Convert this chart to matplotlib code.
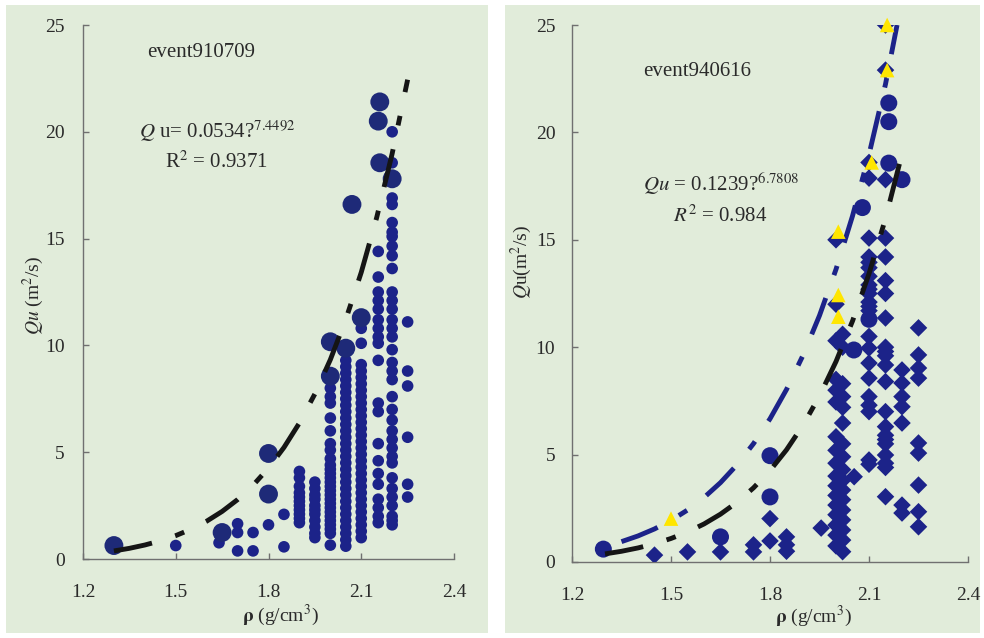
import matplotlib
matplotlib.use("Agg")
import matplotlib.pyplot as plt
from matplotlib.patches import Rectangle

plt.rcParams['font.family'] = ['Liberation Serif', 'DejaVu Serif']
plt.rcParams['mathtext.fontset'] = 'stix'

# ---------------- data: event910709 (left) ----------------
L_big_x = [1.30, 1.65, 1.80, 1.80, 2.00, 2.00, 2.05, 2.07, 2.10, 2.16, 2.155, 2.16, 2.20]
L_big_y = [0.63, 1.24, 4.94, 3.04, 10.17, 8.56, 9.87, 16.6, 11.3, 21.4, 20.5, 18.55, 17.8]

L_col200 = [8.0, 7.6, 7.3, 6.6, 6.0, 5.4, 5.1, 4.7, 4.4, 4.2, 4.0, 3.8, 3.6, 3.4, 3.2, 3.0,
            2.8, 2.6, 2.4, 2.2, 2.0, 1.8, 1.6, 1.4, 1.2, 0.65]
L_col205 = [9.3, 9.0, 8.7, 8.4, 8.1, 7.8, 7.5, 7.2, 6.9, 6.6, 6.3, 6.0, 5.7, 5.4, 5.1, 4.8,
            4.5, 4.2, 3.9, 3.6, 3.3, 3.0, 2.7, 2.4, 2.1, 1.8, 1.5, 1.2, 0.9, 0.6]
L_col210 = [10.8, 10.1, 9.1, 8.8, 8.5, 8.2, 7.9, 7.6, 7.3, 7.0, 6.7, 6.4, 6.1, 5.8, 5.5, 5.2,
            4.9, 4.6, 4.3, 4.0, 3.7, 3.4, 3.1, 2.8, 2.5, 2.2, 1.9, 1.6, 1.3, 1.0]
L_col215 = [14.4, 13.2, 12.5, 12.1, 11.7, 11.2, 10.8, 10.4, 10.1, 9.3, 7.3, 6.9, 5.4, 4.6,
            4.0, 3.5, 2.8, 2.4, 2.0, 1.7]
L_col220 = [20.0, 18.55, 16.9, 16.6, 15.75, 15.3, 15.1, 14.65, 14.2, 13.6, 12.5, 12.1,
            11.7, 11.2, 10.8, 10.4, 9.8, 9.2, 8.8, 8.4, 7.6, 7.0, 6.5, 6.0, 5.6, 5.2,
            4.8, 4.5, 3.8, 3.3, 2.9, 2.5, 2.0, 1.8, 1.6]

L_small_x = ([1.50, 1.64, 1.70, 1.70, 1.70, 1.75, 1.75, 1.80, 1.85, 1.85]
             + [1.90] * 11 + [1.95] * 11 + [2.00] * len(L_col200) + [2.05] * len(L_col205)
             + [2.10] * len(L_col210) + [2.155] * len(L_col215) + [2.20] * len(L_col220)
             + [2.25] * 6)
L_small_y = ([0.63, 0.76, 1.65, 1.24, 0.38, 1.24, 0.38, 1.60, 2.09, 0.57]
             + [4.1, 3.8, 3.4, 3.1, 2.9, 2.7, 2.5, 2.3, 2.1, 1.9, 1.7]
             + [3.6, 3.3, 3.0, 2.8, 2.5, 2.3, 2.1, 1.8, 1.5, 1.2, 1.0]
             + L_col200 + L_col205 + L_col210 + L_col215 + L_col220
             + [11.1, 8.8, 8.1, 5.7, 3.5, 2.9])

# fitted power-law curve
L_fit_x = [1.30, 1.35, 1.40, 1.45, 1.50, 1.55, 1.60, 1.65, 1.70, 1.75, 1.80, 1.85,
           1.90, 1.95, 2.00, 2.05, 2.10, 2.15, 2.20, 2.25]
L_fit_y = [0.377, 0.499, 0.655, 0.850, 1.095, 1.397, 1.770, 2.227, 2.781, 3.452, 4.258,
           5.222, 6.368, 7.728, 9.332, 11.216, 13.42, 15.99, 18.98, 22.44]

# ---------------- data: event940616 (right) ----------------
R_circ_x = [1.295, 1.65, 1.80, 1.80, 2.054, 2.10, 2.08, 2.16, 2.16, 2.16, 2.20]
R_circ_y = [0.60, 1.17, 4.95, 3.03, 9.87, 11.3, 16.5, 21.37, 20.5, 18.57, 17.8]

R_dia_x = ([1.45, 1.55, 1.65, 1.75, 1.75, 1.80, 1.80, 1.85, 1.85, 1.85, 1.955, 2.055]
           + [2.00, 2.02, 2.00, 2.02, 2.00, 2.02, 2.00, 2.02, 2.00, 2.02, 2.00, 2.02,
              2.00, 2.02, 2.00, 2.02, 2.00, 2.02, 2.00, 2.02, 2.00, 2.02, 2.00, 2.02,
              2.00, 2.02, 2.00, 2.02, 2.00, 2.02, 2.00, 2.02, 2.00, 2.02]
           + [2.10] * 22 + [2.15] * 22 + [2.20] * 7 + [2.25] * 9)
R_dia_y = ([0.32, 0.47, 0.47, 0.80, 0.47, 2.02, 0.98, 1.17, 0.80, 0.50, 1.58, 3.97]
           + [15.0, 10.6, 10.3, 10.0, 8.5, 8.3, 8.0, 7.7, 7.45, 6.47, 5.83, 5.5,
              5.2, 4.9, 4.6, 4.3, 4.0, 3.8, 3.55, 3.35, 3.1, 2.9, 2.65, 2.42,
              2.2, 1.96, 1.72, 1.49, 1.25, 1.02, 0.75, 0.48, 12.0, 7.2]
           + [18.6, 17.87, 15.08, 14.2, 13.7, 13.3, 12.9, 12.5, 12.1, 11.7, 10.5, 9.96,
              9.26, 8.56, 7.7, 7.3, 7.0, 4.75, 4.55, 13.95, 12.7, 11.9]
           + [22.9, 25.0, 17.8, 15.08, 14.2, 13.1, 12.5, 11.36, 10.0, 9.6, 9.17, 8.4, 7.0,
              6.3, 5.9, 5.5, 4.98, 4.6, 4.4, 3.04, 9.8, 5.7]
           + [8.94, 8.33, 7.7, 7.23, 6.47, 2.65, 2.28]
           + [10.9, 9.64, 9.03, 8.56, 5.54, 5.07, 3.58, 2.34, 1.64])

R_tri_x = [2.155, 2.155, 2.108, 2.007, 2.007, 2.007, 1.50]
R_tri_y = [25.0, 22.9, 18.6, 15.38, 12.43, 11.42, 2.02]

R_fit_x = [1.35, 1.40, 1.45, 1.50, 1.55, 1.60, 1.65, 1.70, 1.75, 1.80, 1.85, 1.90,
           1.95, 2.00, 2.05, 2.10, 2.15, 2.185]
R_fit_y = [0.948, 1.213, 1.539, 1.937, 2.419, 3.000, 3.696, 4.526, 5.510, 6.667, 8.031,
           9.622, 11.475, 13.624, 16.107, 18.966, 22.246, 25.0]

R_fit2_x = [1.30, 1.35, 1.40, 1.45, 1.50, 1.55, 1.60, 1.65, 1.70, 1.75, 1.80, 1.85,
            1.90, 1.95, 2.00, 2.05, 2.10, 2.15, 2.195]
R_fit2_y = [0.377, 0.499, 0.655, 0.850, 1.095, 1.397, 1.770, 2.227, 2.781, 3.452, 4.258,
            5.222, 6.368, 7.728, 9.332, 11.216, 13.42, 15.99, 18.7]

x_ticks = [1.2, 1.5, 1.8, 2.1, 2.4]
x_tick_labels = ['1.2', '1.5', '1.8', '2.1', '2.4']
y_ticks = [0, 5, 10, 15, 20, 25]

# ---------------- figure ----------------
W, H = 984, 638
fig = plt.figure(figsize=(W / 100, H / 100), dpi=100)
fig.patch.set_facecolor('white')
GREEN = '#e1ecda'
NAVY = '#1c2389'
NAVY_BIG = '#1e2a78'
fig.add_artist(Rectangle((6 / W, 1 - 633 / H), (488 - 6) / W, (633 - 5) / H,
                         transform=fig.transFigure, facecolor=GREEN, edgecolor='none', zorder=0))
fig.add_artist(Rectangle((505 / W, 1 - 633 / H), (980 - 505) / W, (633 - 5) / H,
                         transform=fig.transFigure, facecolor=GREEN, edgecolor='none', zorder=0))

axL = fig.add_axes([83 / W, 1 - 559 / H, (454 - 83) / W, (559 - 25) / H])
axR = fig.add_axes([572 / W, 1 - 562 / H, (968 - 572) / W, (562 - 25) / H])

for ax in (axL, axR):
    ax.set_facecolor('none')
    ax.set_xlim(1.2, 2.4)
    ax.set_ylim(0, 25)
    ax.set_xticks(x_ticks)
    ax.set_xticklabels(x_tick_labels)
    ax.set_yticks(y_ticks)
    for s in ('top', 'right'):
        ax.spines[s].set_visible(False)
    for s in ('left', 'bottom'):
        ax.spines[s].set_color('#707070')
        ax.spines[s].set_linewidth(1.0)
    ax.tick_params(direction='in', length=4, width=1.0, color='#707070',
                   labelsize=14, labelcolor='#2a2a2a')
    ax.tick_params(axis='x', pad=18)
axL.tick_params(axis='y', pad=13)
axR.tick_params(axis='y', pad=12)

DASH = (8.0, 5.0, 2.0, 5.0)

# left panel
axL.scatter(L_small_x, L_small_y, s=70, color=NAVY, edgecolors='none', zorder=3)
axL.scatter(L_big_x, L_big_y, s=185, color=NAVY_BIG, edgecolors='none', zorder=3)
axL.plot(L_fit_x, L_fit_y, color='#151515', lw=3.5, dashes=DASH, dash_capstyle='butt',
         zorder=4, clip_on=False)
axL.text(1.582, 23.7, 'event910709', fontsize=15, ha='center', va='center', color='#2a2a2a')
axL.text(1.634, 20.05, r'$\mathit{Q}$ u= 0.0534?$^{7.4492}$', fontsize=15, ha='center',
         va='center', color='#2a2a2a')
axL.text(1.630, 18.6, r'R$^{2}$ = 0.9371', fontsize=15, ha='center', va='center', color='#2a2a2a')
axL.text(-0.135, 0.494, r'$\mathit{Qu}$ (m$^{2}$/s)', transform=axL.transAxes, rotation=90,
         fontsize=14, ha='center', va='center', color='#2a2a2a')
axL.text(0.531, -0.105, r'$\mathbf{\rho}$ (g/cm$^{3}$)', transform=axL.transAxes,
         fontsize=14, ha='center', va='center', color='#2a2a2a')

# right panel
axR.scatter(R_dia_x, R_dia_y, s=80, marker='D', color=NAVY, edgecolors='none', zorder=3)
axR.scatter(R_circ_x, R_circ_y, s=150, color=NAVY, edgecolors='none', zorder=3)
axR.plot(R_fit_x, R_fit_y, color=NAVY, lw=3.5, dashes=DASH, dash_capstyle='butt', zorder=4)
axR.plot(R_fit2_x, R_fit2_y, color='#151515', lw=3.5, dashes=DASH, dash_capstyle='butt', zorder=4)
axR.scatter(R_tri_x, R_tri_y, s=110, marker='^', color='#ffe600', edgecolors='none', zorder=5,
            clip_on=False)
axR.text(1.579, 22.85, 'event940616', fontsize=15, ha='center', va='center', color='#2a2a2a')
axR.text(1.652, 17.6, r'$\mathit{Qu}$ = 0.1239?$^{6.7808}$', fontsize=15, ha='center',
         va='center', color='#2a2a2a')
axR.text(1.648, 16.1, r'$\mathit{R}^{2}$ = 0.984', fontsize=15, ha='center', va='center',
         color='#2a2a2a')
axR.text(-0.127, 0.559, r'$\mathit{Q}$u(m$^{2}$/s)', transform=axR.transAxes, rotation=90,
         fontsize=14, ha='center', va='center', color='#2a2a2a')
axR.text(0.609, -0.102, r'$\mathbf{\rho}$ (g/cm$^{3}$)', transform=axR.transAxes,
         fontsize=14, ha='center', va='center', color='#2a2a2a')

fig.savefig('out.png', dpi=100, facecolor='white')
